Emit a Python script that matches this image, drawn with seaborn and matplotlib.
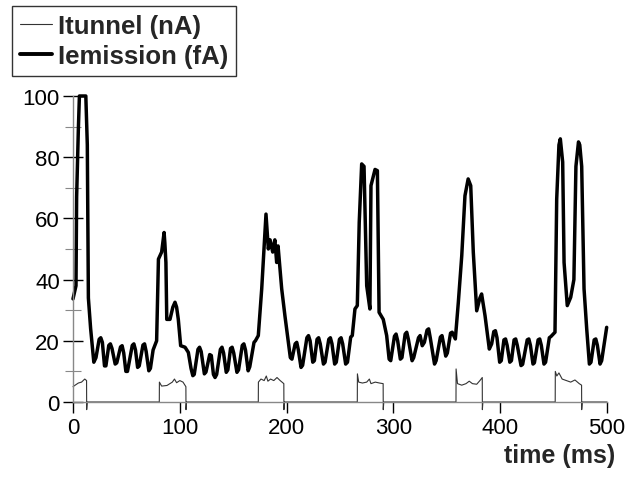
import numpy as np
import pandas as pd
import matplotlib
matplotlib.use("Agg")
import matplotlib.pyplot as plt
import seaborn as sns
from matplotlib.lines import Line2D
from matplotlib.ticker import MultipleLocator

# ---- data ----
emission_t = [0, 2.8, 3.4, 5, 6, 12, 13.4, 14.4, 16.5,
              19.5, 21.5, 24.5, 26, 27.5, 29.5, 30.8, 33.5, 35, 36.5, 39.5, 41, 44.5, 46, 47.5,
              49.5, 51, 55.5, 57, 58.5, 60.5, 62, 65.5, 67, 68.5, 71, 72.5, 75, 78.3,
              80, 83, 84.5, 85.3, 86, 87, 87.8, 90.8, 93.5, 95.5, 97, 98.6,
              100.8, 104.9, 108, 110.5, 112.2, 113.5, 117, 118.5, 120, 123, 124.5, 128, 129.5,
              131.5, 133, 134.5, 138, 139.5, 141, 143.5, 145, 147.5, 149, 150.5, 153.5, 155,
              158.5, 160, 161.5, 164, 165.5, 169.5, 170.8, 173.5,
              176.7, 180.7, 182.9, 184.5, 187, 189, 190.7, 192, 195.4,
              198.5, 201.6, 203.5, 205, 208, 209.5, 211, 213.5, 215, 219, 220.5, 222, 224.5,
              226, 228.5, 230, 231.5, 234.5, 236, 239.5, 241, 242.5, 245, 246.5, 249.5, 251,
              252.5, 255.3, 257, 260, 261.5, 264,
              266.2, 268, 270.3, 272.5, 275, 278, 279, 282.8, 285, 286.6,
              290.5, 293.7, 296, 297.5, 301, 302.5, 304, 306.5, 308, 311, 312.5, 314, 317.5,
              319, 323.5, 325, 327, 329, 331.5, 333, 334.5, 338.5, 340, 344, 345.5, 347, 349,
              350.5, 353.5, 355, 358,
              360.8, 364, 367, 370, 372.4, 374.8, 378, 381, 382.6, 385.8,
              389.8, 392, 394, 395.5, 397, 399.5, 401, 403.5, 405, 406.5, 409, 410.5, 413,
              414.5, 416, 419.5, 421, 425.3, 426.8, 428.3, 430.7, 432, 435.5, 437, 438.5, 441,
              442.5, 446, 447.5, 451.3,
              452.9, 455, 456.3, 458.5, 459.8, 462.8, 466, 469, 470.9, 473.3, 474.5, 476.3,
              478.5, 481, 483.5, 485, 488, 489.5, 491, 493.5, 495, 499.7]
emission_v = [33.7, 38, 67, 89, 100, 100, 84, 34, 24,
              13, 14.5, 20.5, 21, 19.5, 11.8, 11.8, 18.5, 19, 17.5, 12.4, 12.8, 18, 18.4, 16,
              10, 10, 18.5, 19, 17, 11.3, 11.8, 18.6, 19, 16.5, 10.2, 11, 17, 20,
              46.7, 49, 53, 55.4, 52, 45.6, 27, 27, 31, 32.6, 31, 27,
              18.4, 17.9, 16.2, 11, 8.6, 9, 17.2, 17.9, 16.5, 9.2, 9.8, 15.5, 15.2,
              9, 8, 9, 17.2, 17.9, 16, 9.7, 10.5, 17.5, 17.9, 16, 9.7, 10.5,
              18.5, 19, 17, 10.2, 11.5, 19.5, 20, 21.7,
              37, 61.4, 50, 53, 49, 53, 45.6, 51, 37,
              28, 19.5, 14.5, 14, 19, 19.5, 17, 11.3, 12, 21, 21.7, 20, 13,
              13.5, 20.5, 21, 19, 12.4, 13, 20.5, 21, 19, 12.4, 13, 20.5, 21,
              19, 12.4, 13, 21.2, 21.7, 30.4,
              31.5, 58.7, 77.8, 77, 38, 30.4, 70.7, 76, 75.6, 29.3,
              27, 21.7, 14, 13.5, 21.5, 22.2, 20, 14, 14.5, 22.2, 22.8, 20.5, 13.5,
              14.5, 21, 21.7, 18.4, 19.5, 23.5, 23.9, 21, 12.4, 13.5, 21.2, 21.7, 19, 15,
              16, 22.5, 22.8, 20.6,
              32.6, 47.8, 67.4, 72.9, 70.7, 49, 29.8, 34, 35.3, 28.2,
              17.3, 19, 23, 23.3, 21, 13, 13.5, 20.3, 20.6, 18.5, 13, 13.5, 20.3,
              20.6, 18.5, 11.9, 12.3, 20.3, 20.6, 18.5, 12.4, 12.8, 20.3, 20.6, 18.5, 12.4,
              13, 21, 21.4, 22.8,
              66.3, 84, 86, 78.4, 45.6, 31.5, 34.2, 40, 77, 85, 84, 77,
              37, 23.9, 12.4, 13, 20.3, 20.6, 18.5, 12.4, 13.5, 24.4]

tunnel_t = [0, 2, 5, 8, 11, 12.7, 12.8, 13.3,
            80.8, 80.9, 83, 88, 93, 95, 97, 100, 103, 105.7, 105.8, 106.3,
            173.5, 173.6, 176, 179, 181, 182.5, 185, 188, 191, 194, 197.4, 197.5, 198,
            266.2, 266.3, 267.5, 271, 275, 277.5, 279, 283, 287, 290.4, 290.5, 291,
            358.6, 358.7, 360, 364, 368, 371, 374, 378, 381, 383.2, 383.3, 383.8,
            451.5, 451.6, 453, 455, 458, 462, 466, 470, 474, 476.2, 476.3, 476.8, 500]
tunnel_v = [5, 5.5, 6.2, 6.5, 7.5, 7, -2.5, 0,
            0, 6.5, 5.2, 5.4, 6.5, 7.5, 6.3, 7, 6.5, 5, -2.5, 0,
            0, 6.5, 7.5, 7, 8.5, 6.8, 7.5, 7, 8, 7, 6, -2.5, 0,
            0, 9.2, 6.5, 6.2, 6.5, 7.5, 6, 6.5, 6.2, 6, -2.5, 0,
            0, 10.8, 6, 5.5, 6, 6.8, 6, 5.8, 7, 8, -2.5, 0,
            0, 10, 8.5, 9.5, 7.5, 7, 6.5, 7.2, 6, 5.5, -2.5, 0, 0]

labels = ["Itunnel (nA)", "Iemission (fA)"]
xticks = [0, 100, 200, 300, 400, 500]
yticks = [0, 20, 40, 60, 80, 100]

# ---- plotting ----
sns.set_style("ticks")
plt.rcParams["font.family"] = ["Liberation Sans", "DejaVu Sans"]

fig = plt.figure(figsize=(6.36, 4.81), dpi=100)
ax = fig.add_axes([73 / 636, 1 - 403 / 481, (607 - 73) / 636, (403 - 97) / 481])

df_t = pd.DataFrame({"t": tunnel_t, "v": tunnel_v})
df_e = pd.DataFrame({"t": emission_t, "v": emission_v})

sns.lineplot(data=df_t, x="t", y="v", ax=ax, estimator=None, sort=False,
             color="#333333", linewidth=0.8, clip_on=False)
sns.lineplot(data=df_e, x="t", y="v", ax=ax, estimator=None, sort=False,
             color="black", linewidth=2.5, clip_on=False,
             solid_joinstyle="round", solid_capstyle="round")

ax.set_xlim(0, 500)
ax.set_ylim(0, 100)
ax.set_xticks(xticks)
ax.set_yticks(yticks)
ax.yaxis.set_minor_locator(MultipleLocator(10))
ax.set_xlabel("")
ax.set_ylabel("")
sns.despine(ax=ax)
for s in ["left", "bottom"]:
    ax.spines[s].set_color("#888888")
    ax.spines[s].set_linewidth(1.0)
ax.tick_params(axis="x", direction="out", length=8, width=1, color="black",
               labelsize=16, pad=3, labelcolor="black")
ax.tick_params(axis="y", which="major", direction="inout", length=15, width=1,
               color="black", labelsize=16, pad=2, labelcolor="black")
ax.tick_params(axis="y", which="minor", direction="inout", length=12, width=0.8,
               color="#888888")

fig.text(615 / 636, 1 - 456 / 481, "time (ms)", ha="right", va="center",
         fontsize=18, fontweight="bold")

handles = [Line2D([], [], color="#333333", lw=0.8),
           Line2D([], [], color="black", lw=2.8)]
leg = fig.legend(handles, labels, loc="upper left",
                 bbox_to_anchor=(12 / 636, 1 - 7 / 481),
                 prop={"weight": "bold", "size": 18.5},
                 frameon=True, fancybox=False, edgecolor="black",
                 handlelength=1.25, handletextpad=0.25, borderpad=0.3,
                 labelspacing=0.25, borderaxespad=0)
leg.get_frame().set_linewidth(1.0)

fig.savefig("out.png", dpi=100)
